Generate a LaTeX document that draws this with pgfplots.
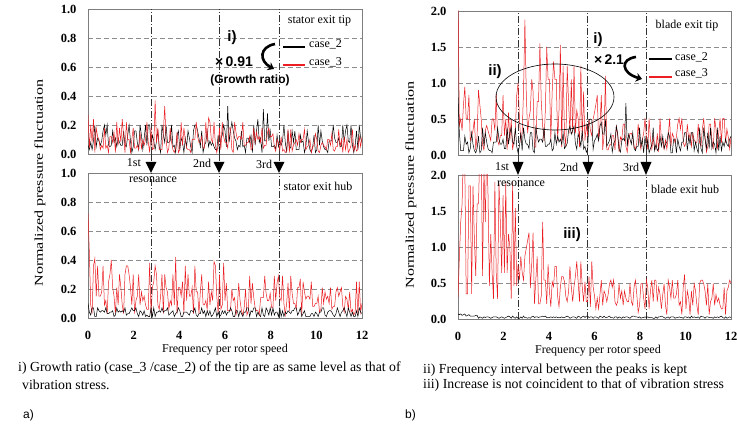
\documentclass[border=0pt]{standalone}
\usepackage{pgfplots}
\pgfplotsset{compat=1.18}
\usepackage{pgfplotstable}
\usepackage{graphicx}
\usepackage{fontspec}
\setmainfont{Liberation Serif}
\newfontfamily\arial{Liberation Sans}
\usetikzlibrary{arrows.meta}
\definecolor{cred}{RGB}{235,30,35}
\definecolor{frm}{RGB}{125,125,125}
\newcommand\tf{\fontsize{12}{14}\selectfont}
\newcommand\cf{\fontsize{13.8}{15}\selectfont}
\newcommand\af{\arial\bfseries\fontsize{15}{16}\selectfont}

\pgfplotstableread{
x a2 a3 b2 b3 c2 c3 d2 d3
0.00 .06 .27 .10 .72 .80 2.20 .07 .30
0.06 .03 .04 .04 .45 .31 .41 .06 .85
0.12 .08 .20 .02 .09 .06 .50 .07 1.35
0.18 .03 .08 .07 .03 .06 .34 .05 1.60
0.24 .09 .24 .07 .36 .06 .70 .06 2.35
0.30 .20 .01 .01 .41 .26 .95 .07 2.10
0.36 .05 .18 .01 .15 .15 .50 .04 .35
0.42 .11 .12 .07 .36 .18 .50 .05 .35
0.48 .09 .10 .05 .15 .03 .83 .06 1.85
0.54 .06 .03 .04 .15 .09 .20 .04 1.85
0.60 .09 .06 .05 .18 .31 .27 .04 .35
0.66 .16 .04 .05 .36 .15 .34 .04 1.85
0.72 .20 .18 .04 .09 .06 .50 .04 1.10
0.78 .13 .04 .07 .12 .03 .07 .05 .60
0.84 .20 .06 .03 .03 .09 .27 .05 1.60
0.90 .06 .01 .03 .25 .26 .90 .01 1.60
0.96 .05 .12 .04 .30 .03 .70 .03 2.35
1.02 .06 .12 .04 .40 .06 .50 .02 2.35
1.08 .16 .08 .05 .21 .38 .14 .01 .60
1.14 .08 .15 .01 .15 .12 .07 .03 2.10
1.20 .11 .01 .02 .03 .31 .34 .02 1.35
1.26 .05 .22 .07 .21 .18 .41 .03 2.35
1.32 .11 .06 .04 .09 .09 .34 .03 1.72
1.38 .08 .18 .05 .30 .06 .27 .02 .46
1.44 .06 .08 .04 .21 .06 .20 .01 1.18
1.50 .06 .24 .05 .09 .03 .50 .02 .64
1.56 .16 .12 .04 .03 .18 .50 .03 .28
1.62 .06 .01 .07 .30 .18 .34 .03 1.90
1.68 .05 .22 .02 .36 .18 .85 .03 .64
1.74 .13 .10 .03 .36 .38 .20 .02 .28
1.80 .20 .10 .03 .30 .22 .14 .01 1.90
1.86 .09 .01 .05 .21 .15 .27 .02 1.36
1.92 .01 .10 .07 .09 .15 .27 .03 .64
1.98 .05 .18 .05 .30 .22 .83 .02 1.72
2.04 .16 .04 .05 .03 .09 .27 .01 .64
2.10 .16 .04 .07 .12 .09 .50 .02 1.90
2.16 .08 .06 .03 .15 .38 .07 .03 .64
2.22 .03 .03 .01 .30 .15 .59 .04 1.18
2.28 .20 .15 .05 .09 .31 .20 .03 1.00
2.34 .13 .04 .04 .18 .38 .50 .01 .28
2.40 .03 .10 .02 .12 .18 .07 .04 1.90
2.46 .11 .06 .05 .15 .15 .20 .02 .46
2.52 .20 .10 .01 .09 .38 .34 .01 1.54
2.58 .06 .22 .02 .06 .12 .83 .03 .46
2.64 .20 .08 .01 .06 .03 1.00 .01 .76
2.70 .20 .01 .01 .38 .12 .51 .01 .54
2.76 .06 .18 .07 .03 .31 .20 .03 .87
2.82 .13 .03 .01 .21 .06 .30 .01 .65
2.88 .09 .04 .07 .25 .38 .88 .04 .54
2.94 .03 .37 .01 .36 .22 1.88 .02 .87
3.00 .09 .08 .04 .30 .15 .88 .02 .98
3.06 .16 .18 .04 .09 .15 .30 .01 1.09
3.12 .05 .03 .05 .06 .09 .51 .02 1.20
3.18 .01 .03 .04 .15 .31 .62 .01 .43
3.24 .20 .03 .07 .30 .31 1.05 .03 .76
3.30 .13 .15 .04 .03 .06 .88 .04 1.20
3.36 .08 .33 .05 .30 .03 .11 .02 .21
3.42 .20 .10 .05 .21 .38 .11 .03 .54
3.48 .08 .01 .07 .18 .26 .74 .03 .87
3.54 .08 .04 .02 .06 .18 .74 .02 .21
3.60 .09 .18 .03 .12 .22 1.55 .03 .21
3.66 .20 .08 .04 .09 .22 .74 .03 .32
3.72 .05 .03 .05 .30 .18 .41 .04 1.35
3.78 .06 .01 .01 .09 .38 .20 .03 .54
3.84 .01 .04 .03 .42 .12 .62 .04 .54
3.90 .13 .15 .04 .03 .12 1.50 .02 .21
3.96 .16 .01 .07 .21 .15 1.05 .02 .76
4.02 .03 .03 .05 .21 .15 1.05 .02 .38
4.08 .11 .22 .01 .15 .22 .20 .03 .17
4.14 .08 .06 .01 .25 .06 .88 .02 .52
4.20 .01 .18 .04 .03 .09 1.30 .03 .45
4.26 .11 .10 .04 .36 .31 1.05 .02 .73
4.32 .05 .04 .04 .12 .15 1.05 .03 .73
4.38 .16 .03 .03 .30 .26 .20 .02 .31
4.44 .11 .03 .02 .15 .18 .62 .02 .17
4.50 .05 .01 .05 .15 .22 1.53 .02 .45
4.56 .01 .10 .05 .21 .15 .11 .03 .59
4.62 .16 .10 .04 .03 .31 1.24 .02 .59
4.68 .20 .10 .07 .36 .09 .30 .02 .52
4.74 .20 .22 .02 .18 .12 .11 .03 .31
4.80 .16 .12 .01 .18 .16 1.24 .04 .24
4.86 .11 .08 .03 .03 .34 .74 .03 .38
4.92 .05 .08 .03 .18 .40 .30 .01 .73
4.98 .16 .12 .07 .30 .29 1.05 .02 .45
5.04 .01 .04 .03 .09 .34 .30 .03 .24
5.10 .06 .04 .05 .09 .40 1.24 .03 .45
5.16 .08 .22 .01 .12 .16 .30 .02 .59
5.22 .16 .08 .05 .06 .08 .62 .01 .80
5.28 .05 .25 .02 .25 .29 .51 .04 .52
5.34 .09 .22 .05 .09 .23 .11 .03 .24
5.40 .06 .10 .01 .18 .12 1.24 .01 .80
5.46 .08 .08 .02 .12 .34 .20 .03 .45
5.52 .05 .22 .04 .39 .08 .88 .04 .24
5.58 .03 .06 .07 .36 .12 .20 .02 .52
5.64 .03 .01 .01 .15 .04 .41 .04 .24
5.70 .13 .06 .04 .03 .08 .27 .04 .24
5.76 .01 .18 .01 .30 .49 .50 .02 .59
5.82 .11 .03 .02 .06 .50 .34 .03 .17
5.88 .13 .22 .05 .09 .49 .27 .03 .80
5.94 .20 .12 .03 .38 .08 .50 .01 .45
6.00 .16 .08 .05 .12 .20 .59 .03 .32
6.06 .05 .08 .02 .24 .23 .70 .03 .14
6.12 .33 .04 .04 .05 .29 .83 .02 .29
6.18 .08 .18 .04 .05 .20 .20 .01 .14
6.24 .16 .18 .07 .05 .40 .41 .04 .34
6.30 .22 .03 .05 .20 .45 .83 .03 .54
6.36 .16 .01 .01 .12 .29 .07 .02 .19
6.42 .11 .22 .01 .14 .29 .27 .04 .39
6.48 .09 .15 .05 .02 .49 1.10 .02 .34
6.54 .03 .10 .05 .07 .12 .07 .02 .24
6.60 .06 .12 .01 .24 .16 .07 .03 .34
6.66 .05 .12 .05 .12 .20 .14 .04 .49
6.72 .16 .10 .03 .05 .29 .14 .02 .54
6.78 .05 .22 .01 .02 .04 .27 .02 .44
6.84 .06 .06 .04 .07 .16 .27 .01 .54
6.90 .01 .06 .04 .20 .20 .07 .03 .24
6.96 .11 .08 .07 .02 .40 .41 .03 .19
7.02 .11 .08 .07 .05 .29 .27 .01 .24
7.08 .08 .12 .01 .29 .08 .04 .03 .49
7.14 .13 .03 .05 .10 .04 .25 .02 .29
7.20 .01 .04 .04 .24 .20 .21 .01 .39
7.26 .20 .18 .07 .14 .23 .43 .03 .19
7.32 .06 .08 .07 .07 .20 .43 .02 .39
7.38 .16 .15 .01 .05 .72 .12 .03 .29
7.44 .24 .10 .04 .05 .12 .04 .03 .24
7.50 .08 .12 .02 .02 .29 .21 .02 .24
7.56 .11 .08 .01 .14 .22 .30 .01 .49
7.62 .01 .18 .07 .14 .15 .30 .03 .24
7.68 .31 .04 .02 .14 .31 .25 .04 .19
7.74 .09 .06 .01 .29 .09 .12 .04 .44
7.80 .09 .06 .07 .17 .06 .08 .03 .54
7.86 .28 .15 .05 .12 .12 .17 .03 .34
7.92 .09 .18 .02 .12 .12 .43 .02 .09
7.98 .16 .12 .07 .17 .38 .21 .03 .19
8.04 .05 .12 .02 .07 .12 .08 .01 .49
8.10 .05 .14 .07 .07 .22 .21 .02 .49
8.16 .06 .05 .02 .29 .03 .30 .02 .29
8.22 .03 .02 .04 .12 .26 .51 .03 .14
8.28 .13 .10 .04 .24 .09 .25 .02 .54
8.34 .05 .08 .01 .29 .22 .08 .03 .44
8.40 .09 .03 .07 .14 .03 .51 .02 .14
8.46 .06 .12 .01 .12 .09 .21 .02 .39
8.52 .09 .02 .05 .29 .15 .08 .02 .54
8.58 .20 .03 .01 .10 .38 .25 .01 .24
8.64 .08 .01 .04 .02 .06 .08 .01 .54
8.70 .01 .02 .03 .10 .15 .08 .03 .54
8.76 .16 .17 .05 .24 .06 .30 .01 .24
8.82 .03 .01 .04 .05 .09 .04 .03 .44
8.88 .05 .17 .03 .29 .26 .51 .03 .34
8.94 .16 .02 .05 .17 .12 .21 .04 .14
9.00 .08 .06 .05 .10 .26 .17 .03 .34
9.06 .16 .08 .07 .10 .09 .08 .02 .49
9.12 .03 .10 .07 .06 .15 .21 .01 .19
9.18 .03 .06 .02 .21 .18 .08 .02 .06
9.24 .03 .14 .04 .21 .31 .25 .03 .54
9.30 .13 .08 .07 .27 .26 .51 .01 .44
9.36 .08 .10 .01 .02 .03 .12 .03 .29
9.42 .09 .10 .03 .25 .03 .30 .03 .54
9.48 .01 .17 .05 .18 .22 .25 .03 .29
9.54 .05 .03 .01 .13 .22 .17 .01 .29
9.60 .16 .05 .01 .15 .03 .25 .02 .34
9.66 .08 .06 .01 .15 .22 .43 .02 .54
9.72 .03 .10 .01 .13 .12 .51 .03 .19
9.78 .01 .01 .03 .25 .06 .36 .02 .24
9.84 .05 .05 .03 .08 .18 .51 .02 .06
9.90 .13 .06 .01 .08 .18 .17 .01 .44
9.96 .01 .14 .04 .10 .31 .12 .03 .62
10.02 .03 .10 .03 .10 .31 .17 .03 .14
10.08 .20 .02 .01 .15 .06 .43 .02 .39
10.14 .06 .01 .04 .04 .26 .21 .03 .29
10.20 .16 .06 .04 .06 .15 .30 .01 .06
10.26 .09 .08 .07 .21 .31 .12 .04 .39
10.32 .05 .06 .07 .10 .31 .30 .02 .19
10.38 .03 .05 .02 .18 .06 .21 .03 .49
10.44 .03 .03 .01 .13 .18 .17 .02 .39
10.50 .01 .10 .04 .15 .09 .17 .02 .19
10.56 .09 .10 .05 .10 .03 .43 .03 .06
10.62 .09 .06 .05 .21 .38 .17 .01 .49
10.68 .09 .14 .04 .06 .09 .12 .04 .54
10.74 .20 .03 .02 .08 .03 .36 .03 .54
10.80 .11 .02 .01 .08 .38 .51 .03 .49
10.86 .08 .05 .03 .18 .22 .25 .01 .39
10.92 .08 .05 .07 .21 .09 .04 .03 .19
10.98 .11 .17 .04 .15 .31 .12 .03 .49
11.04 .05 .05 .01 .18 .09 .43 .02 .06
11.10 .05 .10 .04 .21 .38 .43 .02 .24
11.16 .20 .01 .05 .08 .09 .21 .02 .29
11.22 .08 .12 .07 .04 .18 .08 .01 .49
11.28 .16 .03 .04 .15 .15 .51 .03 .19
11.34 .20 .10 .01 .13 .03 .36 .02 .34
11.40 .09 .01 .07 .06 .38 .08 .03 .24
11.46 .08 .03 .04 .18 .06 .30 .02 .29
11.52 .20 .06 .01 .04 .26 .51 .03 .19
11.58 .06 .17 .04 .06 .06 .17 .04 .14
11.64 .01 .02 .01 .02 .18 .51 .02 .14
11.70 .06 .06 .01 .04 .12 .51 .01 .44
11.76 .16 .02 .05 .25 .22 .17 .03 .06
11.82 .03 .03 .01 .02 .15 .36 .01 .39
11.88 .20 .12 .07 .25 .12 .25 .02 .44
11.94 .11 .05 .04 .04 .22 .08 .03 .54
12.00 .08 .12 .03 .10 .26 .25 .02 .50
}\spec

\tikzset{res/.style={black!80, line width=0.6pt, dash pattern=on 7pt off 2pt on 1pt off 2pt}}
\pgfplotsset{
  panel/.style={scale only axis, anchor=south west,
    xmin=0, xmax=12, xtick={0,2,...,12},
    axis line style={frm, line width=0.8pt},
    ymajorgrids,
    major grid style={black!45, line width=0.5pt, dash pattern=on 5pt off 3pt},
    major tick length=0pt,
    tick label style={font=\fontsize{12.5}{13}\selectfont\bfseries},
    /pgf/number format/assume math mode=true,
    yticklabel style={xshift=-8pt, /pgf/number format/fixed, /pgf/number format/fixed zerofill, /pgf/number format/precision=1},
    xticklabel style={yshift=-10pt},
    every axis plot/.append style={line width=0.5pt, mark=none},
  },
}

\begin{document}
\begin{tikzpicture}
\useasboundingbox (0,0) rectangle (737pt,425pt);

% a) top: stator exit tip
\begin{axis}[panel, at={(88pt,271pt)}, width=274pt, height=145pt,
  ymin=0, ymax=1, ytick={0,0.2,...,1.0}, xticklabels={}]
  \draw[res] (axis cs:2.76,0) -- (axis cs:2.76,1);
  \draw[res] (axis cs:5.75,0) -- (axis cs:5.75,1);
  \draw[res] (axis cs:8.38,0) -- (axis cs:8.38,1);
  \addplot[black] table[x=x, y=a2] {\spec};
  \addplot[cred] table[x=x, y=a3] {\spec};
\end{axis}

% a) bottom: stator exit hub
\begin{axis}[panel, at={(88pt,107pt)}, width=274pt, height=145pt,
  ymin=0, ymax=1, ytick={0,0.2,...,1.0}]
  \draw[res] (axis cs:2.76,0) -- (axis cs:2.76,1);
  \draw[res] (axis cs:5.75,0) -- (axis cs:5.75,1);
  \draw[res] (axis cs:8.38,0) -- (axis cs:8.38,1);
  \addplot[cred] table[x=x, y=b3] {\spec};
  \addplot[black] table[x=x, y=b2] {\spec};
\end{axis}

% b) top: blade exit tip
\begin{axis}[panel, at={(458pt,270pt)}, width=273pt, height=144pt,
  ymin=0, ymax=2, ytick={0,0.5,...,2.0}, xticklabels={}]
  \draw[res] (axis cs:2.63,0) -- (axis cs:2.63,2);
  \draw[res] (axis cs:5.70,0) -- (axis cs:5.70,2);
  \draw[res] (axis cs:8.28,0) -- (axis cs:8.28,2);
  \addplot[cred] table[x=x, y=c3] {\spec};
  \addplot[black] table[x=x, y=c2] {\spec};
\end{axis}

% b) bottom: blade exit hub
\begin{axis}[panel, at={(458pt,106pt)}, width=273pt, height=144pt,
  ymin=0, ymax=2, ytick={0,0.5,...,2.0}]
  \draw[res] (axis cs:2.63,0) -- (axis cs:2.63,2);
  \draw[res] (axis cs:5.70,0) -- (axis cs:5.70,2);
  \draw[res] (axis cs:8.28,0) -- (axis cs:8.28,2);
  \addplot[cred] table[x=x, y=d3] {\spec};
  \addplot[black] table[x=x, y=d2] {\spec};
\end{axis}

% resonance markers between panels
\foreach \xx in {151,219,279}{
  \draw[res] (\xx pt,271pt) -- (\xx pt,263pt);
  \fill[black] (\xx pt-5.5pt,263pt) -- (\xx pt+5.5pt,263pt) -- (\xx pt,252pt) -- cycle;
}
\foreach \xx in {518,588,646}{
  \draw[res] (\xx pt,270pt) -- (\xx pt,263pt);
  \fill[black] (\xx pt-5.5pt,263pt) -- (\xx pt+5.5pt,263pt) -- (\xx pt,250pt) -- cycle;
}
\node[font=\tf] at (134pt,262pt) {1st};
\node[font=\tf] at (202pt,262pt) {2nd};
\node[font=\tf] at (264pt,261pt) {3rd};
\node[font=\tf] at (153pt,245pt) {resonance};
\node[font=\tf] at (502pt,258pt) {1st};
\node[font=\tf] at (569pt,258pt) {2nd};
\node[font=\tf] at (631pt,258pt) {3rd};
\node[font=\tf] at (521pt,241pt) {resonance};

% panel labels and legends
\node[font=\tf] at (319.5pt,404pt) {stator exit tip};
\draw[black, line width=2.5pt] (283pt,378pt) -- (305pt,378pt);
\node[font=\tf, anchor=west, inner sep=0pt] at (309pt,381pt) {case\_2};
\draw[cred, line width=2.5pt] (283pt,360pt) -- (305pt,360pt);
\node[font=\tf, anchor=west, inner sep=0pt] at (309pt,363pt) {case\_3};
\node[font=\tf] at (318pt,239pt) {stator exit hub};

\node[font=\tf] at (687pt,399pt) {blade exit tip};
\draw[black, line width=2.5pt] (649pt,366pt) -- (672pt,366pt);
\node[font=\tf, anchor=west, inner sep=0pt] at (675pt,368pt) {case\_2};
\draw[cred, line width=2.5pt] (649pt,348pt) -- (672pt,348pt);
\node[font=\tf, anchor=west, inner sep=0pt] at (675pt,352pt) {case\_3};
\node[font=\tf] at (685pt,236pt) {blade exit hub};

% annotations
\node[font=\af] at (232pt,387pt) {i)};
\node[font=\arial\bfseries\fontsize{14}{15}\selectfont] at (234pt,363pt) {×\,0.91};
\node[font=\arial\bfseries\fontsize{12}{13}\selectfont] at (250pt,345pt) {(Growth ratio)};
\draw[line width=2.6pt, -{Stealth[length=6pt,width=9pt]}] (275pt,381pt) .. controls (259pt,378pt) and (259pt,364pt) .. (274pt,356pt);

\node[font=\af] at (598pt,385pt) {i)};
\node[font=\arial\bfseries\fontsize{14}{15}\selectfont] at (609pt,365pt) {×\,2.1};
\draw[line width=2.6pt, -{Stealth[length=6pt,width=9pt]}] (636pt,368pt) .. controls (620pt,366pt) and (621pt,352pt) .. (642pt,346pt);
\node[font=\af] at (495pt,353pt) {ii)};
\draw[black, line width=0.6pt] (555pt,328pt) ellipse [x radius=59pt, y radius=33pt];
\node[font=\af] at (572pt,190pt) {iii)};

% axis labels
\node[font=\tf] at (225pt,75pt) {Frequency per rotor speed};
\node[font=\tf] at (598pt,74pt) {Frequency per rotor speed};
\node[font=\tf, rotate=90] at (40pt,242pt) {\resizebox{207pt}{\height}{Normalized pressure fluctuation}};
\node[font=\tf, rotate=90] at (411pt,240pt) {\resizebox{207pt}{\height}{Normalized pressure fluctuation}};

% captions
\node[font=\cf, anchor=west, inner sep=0pt] at (18pt,57pt) {i) Growth ratio (case\_3 /case\_2) of the tip are as same level as that of};
\node[font=\cf, anchor=west, inner sep=0pt] at (22pt,40pt) {vibration stress.};
\node[font=\arial\fontsize{12}{13}\selectfont, anchor=west, inner sep=0pt] at (23pt,10pt) {a)};
\node[font=\cf, anchor=west, inner sep=0pt] at (423pt,55pt) {ii) Frequency interval between the peaks is kept};
\node[font=\cf, anchor=west, inner sep=0pt] at (423pt,40pt) {iii) Increase is not coincident to that of vibration stress};
\node[font=\arial\fontsize{12}{13}\selectfont, anchor=west, inner sep=0pt] at (405pt,10pt) {b)};
\end{tikzpicture}
\end{document}
